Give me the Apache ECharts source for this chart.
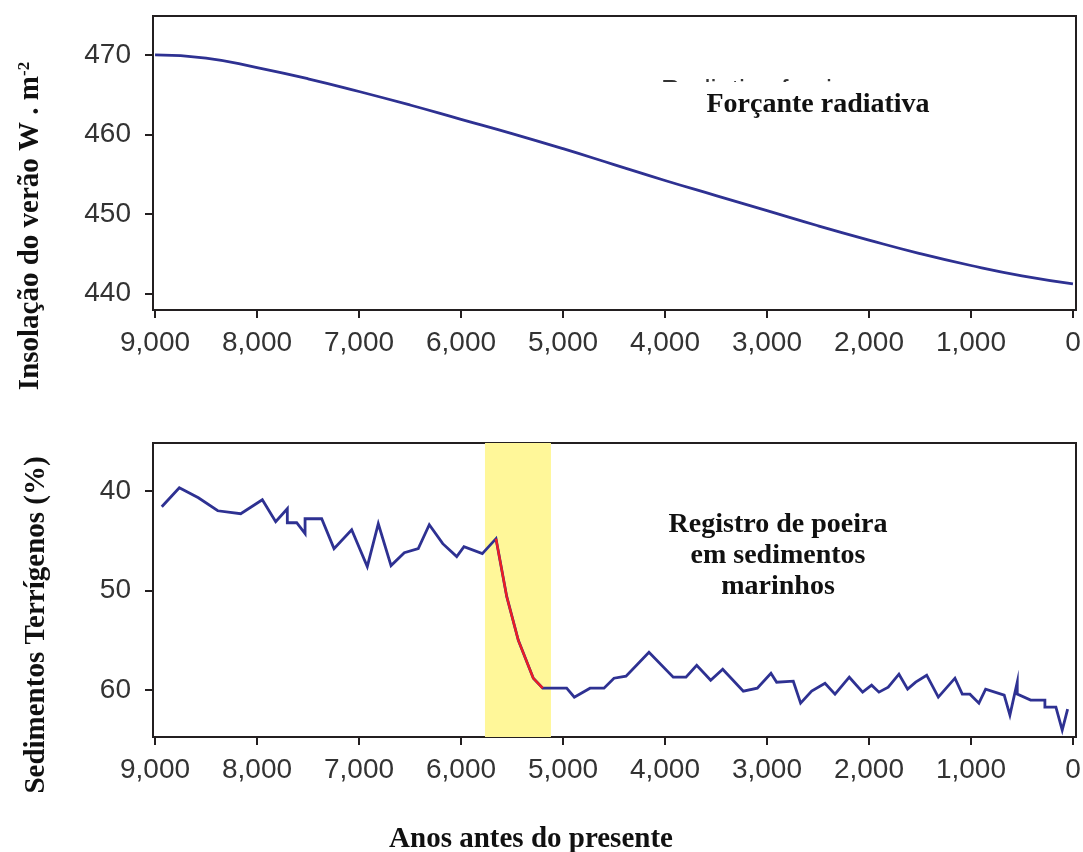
<!DOCTYPE html>
<html>
<head>
    <meta charset="utf-8">
    <title>Insolação e poeira</title>
    <script src="https://cdn.jsdelivr.net/npm/echarts@6/dist/echarts.min.js"></script>
</head>
<style>
html,
body {
    margin: 0px;
    width: 100%;
    height: 100%;
    background: #fff;
}
div#main {
    width: 1083px;
    height: 852px;
}
</style>
<body>
    <div id="main"></div>
    <script type="text/javascript">
        // insolação de verão (W m-2), anos antes do presente
        var insolYears = [9000, 8500, 8000, 7500, 7000, 6500, 6000, 5500, 5000, 4500, 4000, 3500, 3000, 2500, 2000, 1500, 1000, 500, 0];
        var insolValues = [470.0, 469.6, 468.4, 467.0, 465.4, 463.7, 461.9, 460.1, 458.2, 456.2, 454.2, 452.3, 450.4, 448.5, 446.7, 445.0, 443.5, 442.2, 441.2];

        // sedimentos terrígenos (%)
        var dustYears = [8934, 8762, 8575, 8385, 8160, 7948, 7817, 7703, 7703, 7611, 7529, 7529, 7366, 7245, 7072, 6919, 6811, 6686, 6556, 6419,
            6311, 6179, 6042, 5971, 5791, 5657, 5552, 5438, 5291, 5199, 4964, 4889, 4735, 4598, 4500, 4382, 4157, 3919, 3794, 3689,
            3552, 3434, 3232, 3095, 2961, 2905, 2742, 2670, 2562, 2431, 2333, 2193, 2062, 1974, 1902, 1811, 1706, 1621, 1542, 1434,
            1320, 1157, 1085, 1010, 922, 856, 674, 618, 546, 546, 415, 275, 275, 167, 105, 52];
        var dustValues = [41.6, 39.7, 40.7, 42.0, 42.3, 40.9, 43.1, 41.8, 43.2, 43.2, 44.3, 42.8, 42.8, 45.8, 43.9, 47.6, 43.3, 47.5, 46.2, 45.8,
            43.4, 45.3, 46.6, 45.6, 46.3, 44.8, 50.6, 55.0, 58.8, 59.8, 59.8, 60.7, 59.8, 59.8, 58.8, 58.6, 56.2, 58.7, 58.7, 57.5,
            59.0, 57.9, 60.1, 59.8, 58.3, 59.2, 59.1, 61.3, 60.1, 59.3, 60.4, 58.7, 60.2, 59.5, 60.2, 59.7, 58.4, 59.9, 59.2, 58.5,
            60.7, 58.8, 60.4, 60.4, 61.3, 59.9, 60.5, 62.5, 59.2, 60.4, 61.0, 61.0, 61.7, 61.7, 64.0, 61.9];
        // trecho da queda abrupta (índices em dustYears)
        var dropRange = [25, 30];
        // faixa amarela
        var bandYears = [5765, 5118];

        var xTicks = [9000, 8000, 7000, 6000, 5000, 4000, 3000, 2000, 1000, 0];
        var insolTicks = [440, 450, 460, 470];
        var dustTicks = [40, 50, 60];

        function pairs(xs, ys) {
            return xs.map(function (x, i) { return [x, ys[i]]; });
        }

        var ink = '#231f20';
        var navy = '#2e3192';
        var labelFont = { fontFamily: '"Liberation Sans", Arial, sans-serif', fontSize: 28, color: '#333' };
        var serif = '"Liberation Serif", "Times New Roman", serif';

        function xAxis(idx) {
            return {
                type: 'value', gridIndex: idx, inverse: true, min: -30, max: 9020,
                axisLine: { show: true, onZero: false, lineStyle: { color: ink, width: 2 } },
                axisTick: { show: true, length: 8, lineStyle: { color: ink, width: 2 }, customValues: xTicks },
                axisLabel: Object.assign({ margin: 19, customValues: xTicks,
                    formatter: function (v) { return v.toLocaleString('en-US'); } }, labelFont),
                splitLine: { show: false }
            };
        }
        function yAxis(idx, min, max, ticks, inverse) {
            return {
                type: 'value', gridIndex: idx, min: min, max: max, inverse: inverse,
                axisLine: { show: true, onZero: false, lineStyle: { color: ink, width: 2 } },
                axisTick: { show: true, length: 8, lineStyle: { color: ink, width: 2 }, customValues: ticks },
                axisLabel: Object.assign({ margin: 22, customValues: ticks }, labelFont),
                splitLine: { show: false }
            };
        }

        var myChart = echarts.init(document.getElementById('main'), null, { renderer: 'canvas' });
        myChart.setOption({
            animation: false,
            backgroundColor: '#fff',
            grid: [
                { left: 153, top: 16, width: 923, height: 294, show: true, borderColor: ink, borderWidth: 2, outerBoundsMode: 'none', containLabel: false },
                { left: 153, top: 443, width: 923, height: 294, show: true, borderColor: ink, borderWidth: 2, outerBoundsMode: 'none', containLabel: false }
            ],
            xAxis: [xAxis(0), xAxis(1)],
            yAxis: [
                yAxis(0, 437.9, 474.9, insolTicks, false),
                yAxis(1, 35.2, 64.7, dustTicks, true)
            ],
            series: [
                {
                    type: 'line', xAxisIndex: 0, yAxisIndex: 0, smooth: true, symbol: 'none',
                    lineStyle: { color: navy, width: 2.8 },
                    data: pairs(insolYears, insolValues)
                },
                {
                    type: 'line', xAxisIndex: 1, yAxisIndex: 1, symbol: 'none',
                    lineStyle: { color: navy, width: 2.8, join: 'miter' },
                    data: pairs(dustYears, dustValues),
                    markArea: {
                        silent: true,
                        itemStyle: { color: '#fff799' },
                        data: [[{ xAxis: bandYears[0] }, { xAxis: bandYears[1] }]]
                    },
                    z: 2
                },
                {
                    type: 'line', xAxisIndex: 1, yAxisIndex: 1, symbol: 'none',
                    lineStyle: { color: '#ed1c24', width: 2.4 },
                    data: pairs(dustYears, dustValues).slice(dropRange[0], dropRange[1]),
                    z: 3
                }
            ],
            graphic: [
                // texto antigo parcialmente encoberto
                { type: 'text', x: 661, y: 92, z: 10,
                  style: { text: 'Radiative forcing', font: '27px "Liberation Sans", Arial, sans-serif', fill: '#333', align: 'left', verticalAlign: 'middle' } },
                { type: 'rect', z: 11, shape: { x: 650, y: 82, width: 240, height: 32 }, style: { fill: '#fff' } },
                { type: 'text', x: 818, y: 105, z: 12,
                  style: { text: 'Forçante radiativa', font: 'bold 28px ' + serif, fill: '#111', align: 'center', verticalAlign: 'middle' } },
                { type: 'text', x: 778, y: 556, z: 12,
                  style: { text: 'Registro de poeira\nem sedimentos\nmarinhos', font: 'bold 28px ' + serif, lineHeight: 31,
                           fill: '#111', align: 'center', verticalAlign: 'middle' } },
                { type: 'text', x: 531, y: 840, z: 12,
                  style: { text: 'Anos antes do presente', font: 'bold 29px ' + serif, fill: '#111', align: 'center', verticalAlign: 'middle' } },
                { type: 'text', x: 31, y: 226, rotation: Math.PI / 2, z: 12,
                  style: {
                      text: '{a|Insolação do verão W . m}{s|-2}', align: 'center', verticalAlign: 'middle', fill: '#111',
                      rich: {
                          a: { fontFamily: serif, fontWeight: 'bold', fontSize: 29, fill: '#111' },
                          s: { fontFamily: serif, fontWeight: 'bold', fontSize: 17, fill: '#111', verticalAlign: 'top' }
                      }
                  } },
                { type: 'text', x: 37, y: 625, rotation: Math.PI / 2, z: 12,
                  style: { text: 'Sedimentos Terrígenos (%)', font: 'bold 29px ' + serif, fill: '#111', align: 'center', verticalAlign: 'middle' } }
            ]
        });
    </script>
</body>
</html>
